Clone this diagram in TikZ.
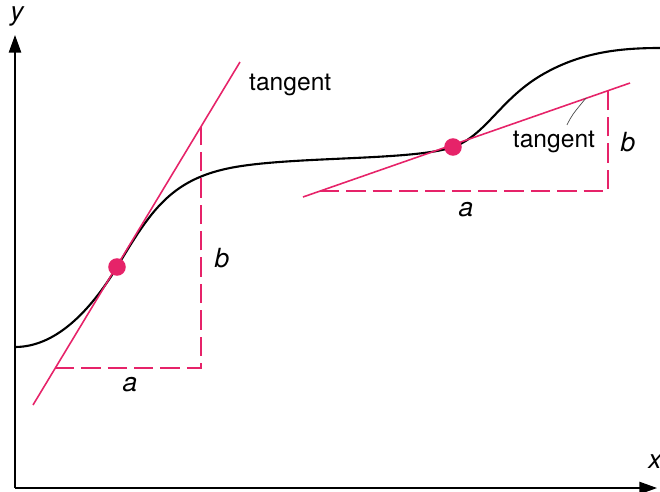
\documentclass[tikz,border=0pt]{standalone}
\usepackage{fontspec}
\setmainfont{TeX Gyre Heros}
\usepackage{tikz}
\usetikzlibrary{arrows.meta}
\definecolor{tanpink}{RGB}{230,35,105}

\begin{document}
\begin{tikzpicture}[
  x=0.02cm, y=-0.02cm,
  axis/.style={thick, -{Triangle[length=10pt,width=7pt]}},
  curve/.style={line width=1.2pt, black},
  tanline/.style={line width=0.9pt, tanpink},
  dashline/.style={line width=0.9pt, tanpink, dash pattern=on 11pt off 4pt},
  dot/.style={circle, fill=tanpink, inner sep=0pt, minimum size=10pt},
  lbl/.style={font=\fontsize{14}{16}\selectfont},
  var/.style={font=\fontsize{15}{17}\selectfont\itshape}
]
\useasboundingbox (0,0) rectangle (660,491);
% axes
\coordinate (O) at (15,488);
\coordinate (Ytop) at (15,35);
\coordinate (Xend) at (657,488);
\draw[axis] (O) -- (Ytop);
\draw[axis] (O) -- (Xend);
\node[var] (ylab) at (17,16) {y};
\node[var] (xlab) at (655,462) {x};

% the curve
\draw[curve] (15,347) .. controls (60,347) and (95,303) .. (117,267)
  .. controls (150,212) and (170,180) .. (230,168)
  .. controls (290,156) and (413,161) .. (453,147)
  .. controls (485,136) and (500,100) .. (540,76)
  .. controls (580,52) and (620,48) .. (660,48);

% steep tangent
\coordinate (T1s) at (33,405);
\coordinate (T1e) at (240,62);
\coordinate (A1) at (55,368);
\coordinate (C1) at (201,368);
\coordinate (B1) at (201,127);
\draw[tanline] (T1s) -- (T1e);
\draw[dashline] (A1) -- (C1) -- (B1);
\node[dot] (P1) at (117,267) {};
\node[lbl, anchor=west] (tan1) at (243,85) {tangent};
\node[var] (a1) at (130,385) {a};
\node[var] (b1) at (222,258) {b};

% shallow tangent
\coordinate (T2s) at (303,197);
\coordinate (T2e) at (630,83);
\coordinate (A2) at (320,191);
\coordinate (C2) at (608,191);
\coordinate (B2) at (608,91);
\draw[tanline] (T2s) -- (T2e);
\draw[dashline] (A2) -- (C2) -- (B2);
\node[dot] (P2) at (453,147) {};
\node[lbl] (tan2) at (554,142) {tangent};
\node[var] (a2) at (466,210) {a};
\node[var] (b2) at (628,142) {b};
\coordinate (L2) at (586,98);
\draw[thin, black!70] ([xshift=0.26cm]tan2.north) .. controls (572,115) .. (L2);
\end{tikzpicture}
\end{document}
